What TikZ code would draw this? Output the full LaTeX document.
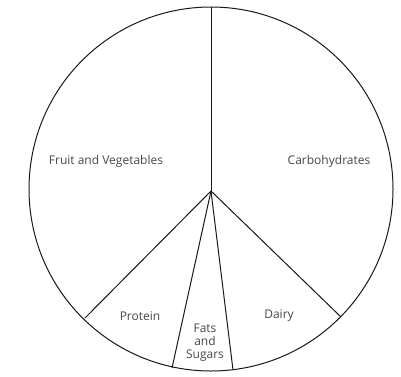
\documentclass[tikz,border=0pt]{standalone}
\usepackage{fontspec}
\setmainfont{Open Sans}
\begin{document}
\begin{tikzpicture}[x=1pt,y=-1pt,
  edge/.style={line width=1pt,black!90},
  lbl/.style={font=\fontsize{12}{13}\selectfont,text=black!72,align=center,inner sep=0pt}]
\useasboundingbox (0,0) rectangle (401,376);
\coordinate (O) at (211,189);
\coordinate (V) at (211,191);
\draw[edge] (O) circle[radius=182];
\coordinate (T) at (211,7);
\coordinate (P) at (85,318);
\coordinate (FL) at (172,368);
\coordinate (FR) at (233,370);
\coordinate (D) at (341,317);
\draw[edge] (V) -- (T);
\draw[edge] (V) -- (P);
\draw[edge] (V) -- (FL);
\draw[edge] (V) -- (FR);
\draw[edge] (V) -- (D);
\node[lbl] (fv) at (106,161) {Fruit and Vegetables};
\node[lbl] (carb) at (329,161) {Carbohydrates};
\node[lbl] (prot) at (140,316) {Protein};
\node[lbl] (dairy) at (279,316) {Dairy};
\node[lbl] (fats) at (205,343) {Fats\\and\\Sugars};
\end{tikzpicture}
\end{document}
